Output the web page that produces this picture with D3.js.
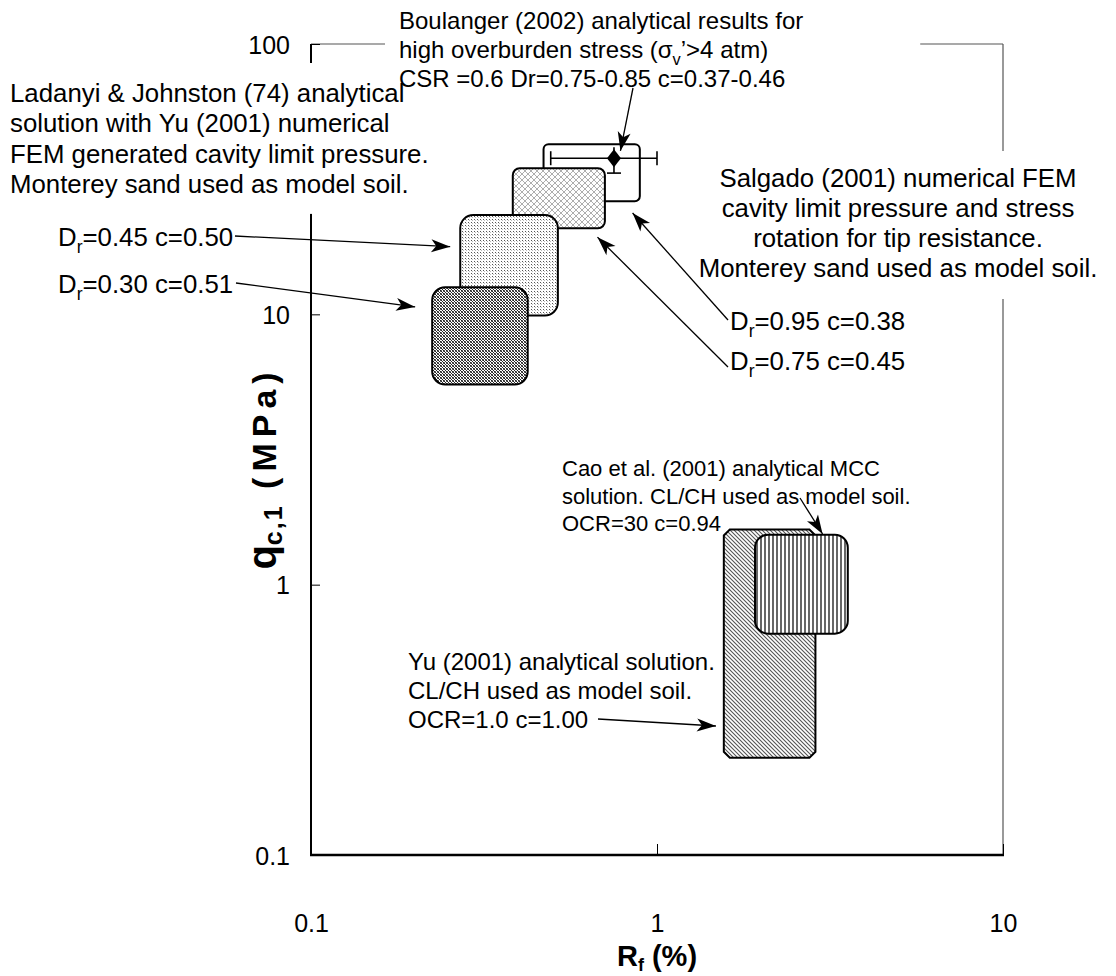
<!DOCTYPE html>
<html>
<head>
<meta charset="utf-8">
<script src="https://cdn.jsdelivr.net/npm/d3@7"></script>
<style>
  body { margin: 0; background: #fff; }
  svg text { font-family: "Liberation Sans", Arial, sans-serif; fill: #000; }
</style>
</head>
<body>
<svg id="chart" width="1116" height="976"></svg>
<script>
// ---- data ----
var xTicks = [0.1, 1, 10];
var yTicks = [0.1, 1, 10, 100];

// zones, Rf (%) and qc,1 (MPa) ranges, back to front
var zoneNames = ["Yu", "Cao", "Dr0.95", "Dr0.75", "Dr0.45", "Dr0.30"];
var zoneRfLo  = [1.56, 1.92, 0.47, 0.383, 0.27, 0.224];
var zoneRfHi  = [2.87, 3.56, 0.892, 0.707, 0.517, 0.423];
var zoneQLo   = [0.229, 0.659, 26.2, 20.8, 9.9, 5.5];
var zoneQHi   = [1.60, 1.53, 42.6, 34.7, 23.3, 12.6];

// Boulanger (2002) point with error bars
var bRf = 0.751, bQ = 37.8;
var bRfLo = 0.493, bRfHi = 1.0;
var bQLo = 33.3, bQHi = 41.5;

// arrow tips (data units)
var tipNames = ["boulanger", "dr45", "dr30", "dr95", "dr75", "cao", "yu"];
var tipRf = [0.784, 0.2525, 0.20, 0.85, 0.673, 3.01, 1.48];
var tipQ  = [40.2, 17.8, 10.65, 23.7, 19.3, 1.54, 0.30];

// ---- layout ----
var x = d3.scaleLog().domain([0.1, 10]).range([311, 1003]);
var y = d3.scaleLog().domain([0.1, 100]).range([855, 44]);

var svg = d3.select("#chart");
var defs = svg.append("defs");

// fill patterns
function pat(id, w, h, bg) {
  var p = defs.append("pattern").attr("id", id)
    .attr("patternUnits", "userSpaceOnUse").attr("width", w).attr("height", h);
  p.append("rect").attr("width", w).attr("height", h).attr("fill", bg);
  return p;
}
function px(p, cx, cy, c) {
  p.append("rect").attr("x", cx).attr("y", cy).attr("width", 1).attr("height", 1).attr("fill", c);
}
var p1 = pat("checkDark", 3, 3, "#fff");
px(p1, 0, 0, "#222"); px(p1, 1, 1, "#222"); px(p1, 2, 2, "#222");
px(p1, 2, 0, "#666"); px(p1, 0, 2, "#666");

var p2 = pat("dotsLight", 3, 3, "#fff");
px(p2, 0, 0, "#555"); px(p2, 1, 1, "#bbb");

var p3 = pat("crossGrid", 6, 6, "#fff");
p3.append("path").attr("d", "M0,0L6,6M6,0L0,6").attr("stroke", "#999").attr("stroke-width", 0.8);

var p4 = pat("hatchDiag", 4, 4, "#fff");
p4.append("path").attr("d", "M-1,-1L5,5M-1,3L1,5M3,-1L5,1").attr("stroke", "#555").attr("stroke-width", 1.1);

var p5 = pat("hatchVert", 4, 4, "#fff");
p5.append("path").attr("d", "M1,0V4").attr("stroke", "#000").attr("stroke-width", 1.2);

var zoneStyle = {
  "Yu":     { fill: "url(#hatchDiag)", r: 6, chamfer: true },
  "Cao":    { fill: "url(#hatchVert)", r: 13 },
  "Dr0.95": { fill: "#fff", r: 5 },
  "Dr0.75": { fill: "url(#crossGrid)", r: 7 },
  "Dr0.45": { fill: "url(#dotsLight)", r: 13 },
  "Dr0.30": { fill: "url(#checkDark)", r: 13 }
};

// arrowhead marker
defs.append("marker").attr("id", "arr")
  .attr("markerUnits", "userSpaceOnUse")
  .attr("viewBox", "-20 -7 22 14").attr("refX", 0).attr("refY", 0)
  .attr("markerWidth", 22).attr("markerHeight", 14).attr("orient", "auto")
  .append("path").attr("d", "M0,0L-19,-6.5L-14,0L-19,6.5Z").attr("fill", "#000");

// ---- frame ----
var frame = svg.append("g");
frame.append("line").attr("x1", x(0.1)).attr("x2", x(10)).attr("y1", y(100)).attr("y2", y(100))
  .attr("stroke", "#555").attr("stroke-width", 1.2);
frame.append("line").attr("x1", x(10)).attr("x2", x(10)).attr("y1", y(100)).attr("y2", y(0.1))
  .attr("stroke", "#555").attr("stroke-width", 1.2);
frame.append("line").attr("x1", x(0.1)).attr("x2", x(0.1)).attr("y1", y(100)).attr("y2", y(0.1))
  .attr("stroke", "#000").attr("stroke-width", 2);
frame.append("line").attr("x1", x(0.1) - 1).attr("x2", x(10) + 1).attr("y1", y(0.1)).attr("y2", y(0.1))
  .attr("stroke", "#000").attr("stroke-width", 2.5);

// axes (ticks inside, labels outside)
var fmt = function (d) { return String(d); };
var yAxis = svg.append("g").attr("transform", "translate(" + x(0.1) + ",0)")
  .call(d3.axisLeft(y).tickValues(yTicks).tickFormat(fmt).tickSizeInner(-9).tickSizeOuter(0).tickPadding(21));
var xAxis = svg.append("g").attr("transform", "translate(0," + y(0.1) + ")")
  .call(d3.axisBottom(x).tickValues(xTicks).tickFormat(fmt).tickSizeInner(-11).tickSizeOuter(0).tickPadding(59));
[yAxis, xAxis].forEach(function (a) {
  a.select(".domain").remove();
  a.selectAll("line").attr("stroke", "#000").attr("stroke-width", 1);
  a.selectAll("text").attr("font-size", 25).attr("font-family", "Liberation Sans, Arial, sans-serif");
});
yAxis.selectAll("text").attr("dy", "0.36em");

// ---- text blocks (white backgrounds mask the frame) ----
function rich(t, s) {
  var parts = s.split(/_(\w)/);
  var shift = 0;
  parts.forEach(function (p, i) {
    if (!p) return;
    var ts = t.append("tspan").text(p);
    if (i % 2 === 1) {
      ts.attr("font-size", "68%").attr("dy", 7);
      shift = -7;
    } else if (shift) {
      ts.attr("dy", shift);
      shift = 0;
    }
  });
}
function block(lines, x0, y0, dy, size, anchor, pad) {
  var g = svg.append("g");
  var bg = g.append("rect").attr("fill", "#fff");
  var t = g.append("g");
  lines.forEach(function (s, i) {
    var tx = t.append("text").attr("x", x0).attr("y", y0 + i * dy)
      .attr("font-size", size).attr("text-anchor", anchor);
    rich(tx, s);
  });
  if (pad) {
    var b = t.node().getBBox();
    bg.attr("x", b.x - pad[0]).attr("y", b.y - pad[1])
      .attr("width", b.width + pad[0] + pad[2]).attr("height", Math.max(0, b.height + pad[1] + pad[3]));
  }
  return g;
}

block(["Ladanyi & Johnston (74) analytical",
       "solution with Yu (2001) numerical",
       "FEM generated cavity limit pressure.",
       "Monterey sand used as model soil."], 10, 102, 30.3, 25.8, "start", [4, 16, 4, 16]);
block(["Boulanger (2002) analytical results for",
       "high overburden stress (\u03c3_v\u2019>4 atm)",
       "CSR =0.6 Dr=0.75-0.85 c=0.37-0.46"], 399, 29, 29, 24, "start", [14, 12, 117, -40]);
block(["Salgado (2001) numerical FEM",
       "cavity limit pressure and stress",
       "rotation for tip resistance.",
       "Monterey sand used as model soil."], 898, 187, 30, 25.8, "middle", [4, 13, 4, 17]);
block(["Cao et al. (2001) analytical MCC",
       "solution. CL/CH used as model soil.",
       "OCR=30 c=0.94"], 562, 476, 27.5, 22, "start", null);
block(["Yu (2001) analytical solution.",
       "CL/CH used as model soil.",
       "OCR=1.0 c=1.00"], 408, 670, 29, 24, "start", null);
block(["D_r=0.45 c=0.50"], 58, 246, 0, 25.8, "start", null);
block(["D_r=0.30 c=0.51"], 58, 293, 0, 25.8, "start", null);
block(["D_r=0.95 c=0.38"], 730, 330, 0, 25.8, "start", null);
block(["D_r=0.75 c=0.45"], 730, 370, 0, 25.8, "start", null);

// ---- zones ----
var zoneG = svg.append("g");
function zonePath(i) {
  var st = zoneStyle[zoneNames[i]];
  var x0 = x(zoneRfLo[i]), x1 = x(zoneRfHi[i]), y0 = y(zoneQHi[i]), y1 = y(zoneQLo[i]);
  var r = st.r;
  if (st.chamfer) {
    return "M" + (x0 + r) + "," + y0 + "L" + (x1 - r) + "," + y0 + "L" + x1 + "," + (y0 + r) +
      "L" + x1 + "," + (y1 - r) + "L" + (x1 - r) + "," + y1 + "L" + (x0 + r) + "," + y1 +
      "L" + x0 + "," + (y1 - r) + "L" + x0 + "," + (y0 + r) + "Z";
  }
  var p = d3.path();
  p.moveTo(x0 + r, y0);
  p.arcTo(x1, y0, x1, y1, r);
  p.arcTo(x1, y1, x0, y1, r);
  p.arcTo(x0, y1, x0, y0, r);
  p.arcTo(x0, y0, x1, y0, r);
  p.closePath();
  return p.toString();
}
var idx = d3.range(zoneNames.length);
var back = idx.slice(0, 3), front = idx.slice(3);

zoneG.selectAll("path.back").data(back).enter().append("path")
  .attr("d", zonePath)
  .attr("fill", function (i) { return zoneStyle[zoneNames[i]].fill; })
  .attr("stroke", "#000").attr("stroke-width", 2);

// error bars + diamond
var eb = zoneG.append("g").attr("stroke", "#000").attr("stroke-width", 1.6);
eb.append("line").attr("x1", x(bRfLo)).attr("x2", x(bRfHi)).attr("y1", y(bQ)).attr("y2", y(bQ));
eb.append("line").attr("x1", x(bRfLo)).attr("x2", x(bRfLo)).attr("y1", y(bQ) - 7).attr("y2", y(bQ) + 7);
eb.append("line").attr("x1", x(bRfHi)).attr("x2", x(bRfHi)).attr("y1", y(bQ) - 7).attr("y2", y(bQ) + 7);
eb.append("line").attr("x1", x(bRf)).attr("x2", x(bRf)).attr("y1", y(bQHi)).attr("y2", y(bQLo));
eb.append("line").attr("x1", x(bRf) - 7).attr("x2", x(bRf) + 7).attr("y1", y(bQLo)).attr("y2", y(bQLo));
zoneG.append("path")
  .attr("d", "M0,-9L7,0L0,9L-7,0Z")
  .attr("transform", "translate(" + x(bRf) + "," + y(bQ) + ")")
  .attr("fill", "#000");

zoneG.selectAll("path.front").data(front).enter().append("path")
  .attr("d", zonePath)
  .attr("fill", function (i) { return zoneStyle[zoneNames[i]].fill; })
  .attr("stroke", "#000").attr("stroke-width", 2);

// ---- leader arrows: tail at the label (px), tip in data units ----
var tailPx = {
  boulanger: [633, 88], dr45: [235, 236], dr30: [236, 283],
  dr95: [728, 320], dr75: [728, 367], cao: [800, 498], yu: [598, 719]
};
svg.append("g").selectAll("line").data(d3.range(tipNames.length)).enter().append("line")
  .attr("x1", function (i) { return tailPx[tipNames[i]][0]; })
  .attr("y1", function (i) { return tailPx[tipNames[i]][1]; })
  .attr("x2", function (i) { return x(tipRf[i]); })
  .attr("y2", function (i) { return y(tipQ[i]); })
  .attr("stroke", "#000").attr("stroke-width", 1.3)
  .attr("marker-end", "url(#arr)");

// ---- axis titles ----
var yt = svg.append("text").attr("transform", "translate(276,468) rotate(-90)")
  .attr("text-anchor", "middle").attr("font-weight", "bold");
yt.append("tspan").attr("font-size", 40).text("q");
yt.append("tspan").attr("font-size", 25).attr("dy", 6).attr("letter-spacing", 2).text("c,1");
yt.append("tspan").attr("font-size", 34).attr("dy", -6).attr("letter-spacing", 6).text("\u00a0(MPa)");

var xt = svg.append("text").attr("x", 657).attr("y", 966)
  .attr("text-anchor", "middle").attr("font-weight", "bold");
xt.append("tspan").attr("font-size", 29).text("R");
xt.append("tspan").attr("font-size", 18).attr("dy", 5).text("f");
xt.append("tspan").attr("font-size", 29).attr("dy", -5).text(" (%)");
</script>
</body>
</html>
